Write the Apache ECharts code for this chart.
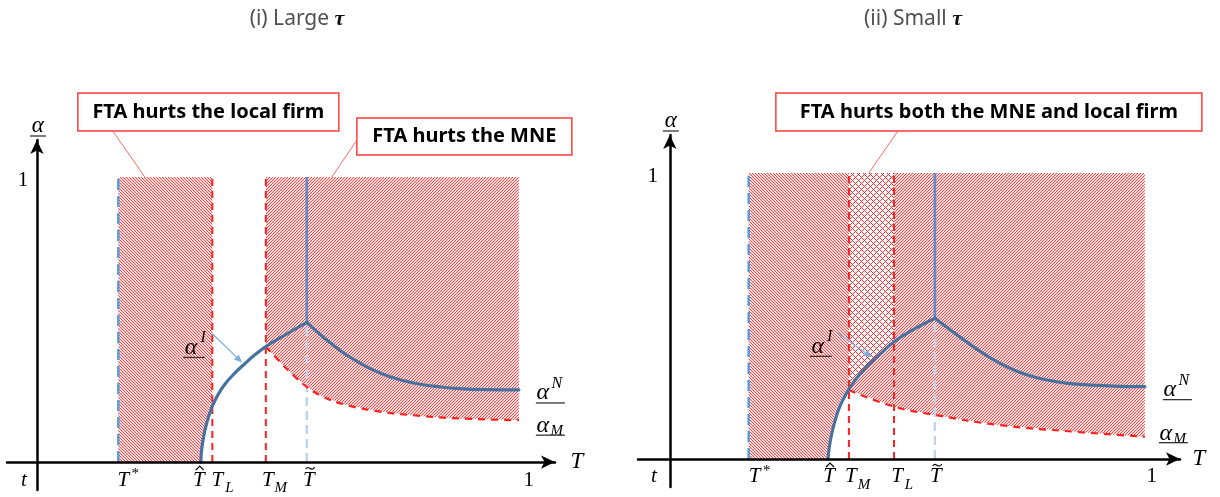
<!DOCTYPE html>
<html>
<head>
<meta charset="utf-8">
<script src="https://cdn.jsdelivr.net/npm/echarts@6/dist/echarts.min.js"></script>
<style>
  html, body { margin: 0; padding: 0; background: #fff; }
  #chart { width: 1220px; height: 497px; }
</style>
</head>
<body>
<div id="chart"></div>
<script>
// ---- Thresholds on the T axis, order: T*, T-hat, T_L, T_M, T-tilde ----
const thresholdNames = ['T*', 'T\u0302', 'T_L', 'T_M', 'T\u0303'];
const largeThresholds = [0.169, 0.340, 0.364, 0.475, 0.560];
const smallThresholds = [0.166, 0.333, 0.472, 0.377, 0.558];

// ---- Curves, points are [T, alpha] ----
// Large tau
const largeAlphaI = [[0.340, 0], [0.342, 0.045], [0.346, 0.090], [0.352, 0.135], [0.358, 0.168],
  [0.364, 0.196], [0.375, 0.234], [0.390, 0.273], [0.410, 0.311], [0.432, 0.346], [0.453, 0.377],
  [0.475, 0.405], [0.518, 0.449], [0.560, 0.490]];
const largeAlphaN = [[0.560, 0.490], [0.598, 0.433], [0.638, 0.381], [0.678, 0.340], [0.717, 0.309],
  [0.757, 0.287], [0.796, 0.273], [0.836, 0.264], [0.875, 0.258], [0.931, 0.254], [1.000, 0.253]];
const largeAlphaM = [[0.475, 0.405], [0.504, 0.352], [0.532, 0.305], [0.560, 0.264], [0.594, 0.229],
  [0.643, 0.200], [0.712, 0.177], [0.796, 0.162], [0.875, 0.153], [1.000, 0.147]];
// Small tau
const smallAlphaI = [[0.333, 0], [0.336, 0.045], [0.341, 0.090], [0.348, 0.135], [0.357, 0.180],
  [0.367, 0.215], [0.377, 0.244], [0.393, 0.282], [0.414, 0.322], [0.442, 0.366], [0.472, 0.410],
  [0.512, 0.452], [0.558, 0.492]];
const smallAlphaN = [[0.558, 0.492], [0.611, 0.426], [0.651, 0.379], [0.692, 0.337], [0.733, 0.305],
  [0.773, 0.284], [0.814, 0.270], [0.854, 0.262], [0.935, 0.255], [1.000, 0.253]];
const smallAlphaM = [[0.377, 0.241], [0.472, 0.183], [0.558, 0.154], [0.692, 0.119], [0.854, 0.095],
  [1.000, 0.078]];

// ---- Texts ----
const panelTitles = ['(i) Large {tau|\u03c4}', '(ii) Small {tau|\u03c4}'];
const calloutTexts = ['FTA hurts the local firm', 'FTA hurts the MNE', 'FTA hurts both the MNE and local firm'];
const axisEndLabel = '1';

// ---- Styles ----
const SERIF = '"Liberation Serif", "DejaVu Serif", serif';
const SANS = '"Noto Sans", "Noto Sans CJK JP", sans-serif';
const CURVE = '#46729f';
const RED = '#ff1f1f';

// Diagonal hatch tiles drawn pixel by pixel
function makeHatch(kind) {
  const size = kind === 'x' ? 6 : 3;
  const c = document.createElement('canvas');
  c.width = c.height = size;
  const g = c.getContext('2d');
  const im = g.createImageData(size, size);
  for (let y = 0; y < size; y++) {
    for (let x = 0; x < size; x++) {
      const k = (y * size + x) * 4;
      if (kind === 'x') {
        const on = (x + y) % 6 === 0 || (x - y + 6) % 6 === 0;
        im.data[k] = 255; im.data[k + 1] = on ? 45 : 255; im.data[k + 2] = on ? 45 : 255; im.data[k + 3] = 255;
      } else {
        const on = kind === '/' ? (x + y) % 3 === 2 : (x - y + 3) % 3 === 0;
        im.data[k] = 255; im.data[k + 1] = 20; im.data[k + 2] = 20; im.data[k + 3] = on ? 200 : 36;
      }
    }
  }
  g.putImageData(im, 0, 0);
  return { image: c, repeat: 'repeat' };
}
const hatchBack = makeHatch('\\');
const hatchFwd = makeHatch('/');
const hatchCross = makeHatch('x');

// ---- Math-style label pieces (relative to the main glyph centre) ----
function T(s, x, y, size, upright) {
  const font = (upright ? '' : 'italic ') + size + 'px ' + SERIF;
  return { type: 'text', x: x, y: y, style: { text: s, font: font, fill: '#000',
    align: 'center', verticalAlign: 'middle', textAlign: 'center', textVerticalAlign: 'middle' } };
}
function sym(base, o) {
  o = o || {};
  const size = o.size || 21;
  const parts = [T(base, 0, 0, size, o.upright)];
  if (o.sup) parts.push(T(o.sup, o.supDx ?? 11, o.supDy ?? -7, o.supSize || 15, o.supUpright));
  if (o.sub) parts.push(T(o.sub, o.subDx ?? 12, o.subDy ?? 8, o.subSize || 15));
  if (o.hat) parts.push({ type: 'polyline', shape: { points: [[-3, -10], [1, -14], [5, -10]] },
    style: { stroke: '#000', lineWidth: 1.2, fill: null } });
  if (o.tilde) parts.push({ type: 'bezierCurve',
    shape: { x1: -3, y1: -11, cpx1: 0, cpy1: -16, cpx2: 2, cpy2: -7, x2: 6, y2: -13 },
    style: { stroke: '#000', lineWidth: 1.2, fill: null } });
  if (o.under) parts.push({ type: 'line', shape: { x1: o.under[0], y1: o.under[2], x2: o.under[1], y2: o.under[2] },
    style: { stroke: '#333', lineWidth: 1.3 } });
  return parts;
}
function pointer(tx, ty, hx, hy) {
  const a = Math.atan2(hy - ty, hx - tx), L = 8, W = 3.5;
  const bx = hx - L * Math.cos(a), by = hy - L * Math.sin(a);
  return [
    { type: 'line', shape: { x1: tx, y1: ty, x2: bx, y2: by }, style: { stroke: '#7aaedd', lineWidth: 1.3 } },
    { type: 'polygon', shape: { points: [[hx, hy], [bx + W * Math.sin(a), by - W * Math.cos(a)], [bx - W * Math.sin(a), by + W * Math.cos(a)]] },
      style: { fill: '#7aaedd' } }
  ];
}
function callout(text, bx, by, w, h, lx, ly) {
  return [
    { type: 'line', shape: { x1: 0, y1: 0, x2: lx, y2: ly }, style: { stroke: '#ff6b6b', lineWidth: 1 } },
    { type: 'rect', shape: { x: bx, y: by, width: w, height: h }, style: { fill: '#fff', stroke: '#ff3c3c', lineWidth: 1.5 } },
    { type: 'text', x: bx + w / 2, y: by + h / 2, style: { text: text, font: 'bold 20px ' + SANS, fill: '#000',
      align: 'center', verticalAlign: 'middle', textAlign: 'center', textVerticalAlign: 'middle' } }
  ];
}

// ---- Annotation layout for each panel ----
function panelNotes(th, aN, aM, aI, iPoint, L) {
  const endN = aN[aN.length - 1], endM = aM[aM.length - 1];
  return [
    { at: [th[0], 0], dx: L.star, dy: 18, parts: sym('T', { sup: '*', supDx: 12, supDy: -6, supSize: 15, supUpright: true }) },
    { at: [th[1], 0], dx: L.hat, dy: 18, parts: sym('T', { hat: true }) },
    { at: [th[2], 0], dx: L.tl, dy: 18, parts: sym('T', { sub: 'L' }) },
    { at: [th[3], 0], dx: L.tm, dy: 18, parts: sym('T', { sub: 'M', subDx: 13 }) },
    { at: [th[4], 0], dx: L.til, dy: 18, parts: sym('T', { tilde: true }) },
    { at: [1, 0], dx: L.one, dy: 18, parts: sym(axisEndLabel, { upright: true }) },
    { at: [0, 0], dx: L.t, dy: 18, parts: sym('t') },
    { at: [0, 1], dx: L.yOne, dy: 3, parts: sym(axisEndLabel, { upright: true }) },
    { at: [0, L.yTop], dx: 1, dy: -14, parts: sym('\u03b1', { size: 23, under: [-8, 8, 10] }) },
    { at: [L.xEnd, 0], dx: L.tName, dy: 0, parts: sym('T', { size: 23 }) },
    { at: endN, dx: L.nDx, dy: 3, parts: sym('\u03b1', { size: 24, sup: 'N', supDx: 14, supDy: -9, supSize: 16, under: [-7, 22, 10] }) },
    { at: endM, dx: L.mDx, dy: L.mDy, parts: sym('\u03b1', { size: 24, sub: 'M', subDx: 14, subDy: 5, supSize: 16, under: [-7, 22, 9] }) },
    { at: aI[iPoint], dx: 0, dy: 0, parts: pointer(L.arrow[0], L.arrow[1], L.arrow[2], L.arrow[3])
        .concat(sym('\u03b1', { size: 24, sup: 'I', supDx: 12, supDy: -10, supSize: 16, under: [-8, 14, 10] })
          .map(p => Object.assign(p, p.type === 'text' ? { x: p.x + L.iLab[0], y: p.y + L.iLab[1] } : { x: L.iLab[0], y: L.iLab[1] }))) }
  ];
}

const largeNotes = panelNotes(largeThresholds, largeAlphaN, largeAlphaM, largeAlphaI, 9, {
  star: 5, hat: -2, tl: 5, tm: 2, til: 2, one: 10, t: -13, yOne: -14, yTop: 1.13, xEnd: 1.075, tName: 22,
  nDx: 24, mDx: 24, mDy: 6, arrow: [-33, -30, -3, -1], iLab: [-54, -16]
}).concat([
  { at: [0.224, 1], dx: 0, dy: 0, parts: callout(calloutTexts[0], -67, -84, 261, 38, -32, -46) },
  { at: [0.612, 1], dx: 0, dy: 0, parts: callout(calloutTexts[1], 25, -59, 215, 37, 25, -37) }
]);
const smallNotes = panelNotes(smallThresholds, smallAlphaN, smallAlphaM, smallAlphaI, 9, {
  star: 6, hat: 1, tl: 3, tm: 2, til: 1, one: 7, t: -16, yOne: -17, yTop: 1.133, xEnd: 1.074, tName: 19,
  nDx: 25, mDx: 21, mDy: -3, arrow: [-43, -22, -8, 3], iLab: [-62, -8]
}).concat([
  { at: [0.419, 1], dx: 0, dy: 0, parts: callout(calloutTexts[2], -93, -80, 426, 38, 29, -42) }
]);

// ---- Series builders ----
function regionSeries(gi, polys) {
  return {
    type: 'custom', xAxisIndex: gi, yAxisIndex: gi, silent: true, z: 1,
    data: polys.map((p, i) => [p.pts[0][0], p.pts[0][1], i]),
    renderItem: function (params, api) {
      const poly = polys[api.value(2)];
      return { type: 'polygon', shape: { points: poly.pts.map(p => api.coord(p)) }, style: { fill: poly.fill } };
    }
  };
}
function noteSeries(gi, notes) {
  return {
    type: 'custom', xAxisIndex: gi, yAxisIndex: gi, silent: true, z: 20,
    data: notes.map((n, i) => [n.at[0], n.at[1], i]),
    renderItem: function (params, api) {
      const n = notes[api.value(2)];
      const p = api.coord([api.value(0), api.value(1)]);
      return { type: 'group', x: p[0] + n.dx, y: p[1] + n.dy, children: n.parts };
    }
  };
}
function line(gi, data, style, extra) {
  return Object.assign({ type: 'line', xAxisIndex: gi, yAxisIndex: gi, data: data, symbol: 'none',
    silent: true, z: 3, lineStyle: style }, extra || {});
}

function panelSeries(gi, th, aI, aN, aM, withCross) {
  const peak = aI[aI.length - 1];
  const upToL = aI.filter(p => p[0] <= th[2] + 1e-9).reverse();
  const polys = [
    { fill: hatchBack, pts: [[th[0], 0], [th[0], 1], [th[2], 1]].concat(upToL) },
    { fill: hatchFwd, pts: [[th[3], 1], [1, 1]].concat(aM.slice().reverse()) }
  ];
  if (withCross) {
    const mid = aI.filter(p => p[0] >= th[3] - 1e-9 && p[0] <= th[2] + 1e-9).reverse();
    polys.push({ fill: hatchCross, pts: [[th[3], 1], [th[2], 1]].concat(mid) });
  }
  const smooth = { smooth: 0.45 };
  return [
    regionSeries(gi, polys),
    line(gi, [[th[0], 0], [th[0], 1]], { color: '#5b9bd5', width: 2.5, type: [11, 6] }),
    line(gi, [[th[2], 0], [th[2], 1]], { color: RED, width: 2, type: [7, 5] }),
    line(gi, [[th[3], 0], [th[3], 1]], { color: RED, width: 2, type: [7, 5] }),
    line(gi, [[th[4], 0], peak], { color: '#bcd4ec', width: 2.4, type: [9, 5] }),
    line(gi, [peak, [th[4], 1]], { color: '#5b8ec8', width: 2.8 }),
    line(gi, aM, { color: RED, width: 2.2, type: [7, 6] }, smooth),
    line(gi, aI, { color: CURVE, width: 3.2, cap: 'round', join: 'round' }, smooth),
    line(gi, aN, { color: CURVE, width: 3.2, cap: 'round', join: 'round' }, smooth)
  ];
}

function axisPair(gi, xmin, xmax, ymin, ymax) {
  const axisLine = { show: true, onZero: true, symbol: ['none', 'arrow'], symbolSize: [10, 14],
    lineStyle: { color: '#000', width: 2.5 } };
  const common = { type: 'value', gridIndex: gi, z: 10, axisLine: axisLine, axisTick: { show: false },
    axisLabel: { show: false }, splitLine: { show: false } };
  return [Object.assign({ min: xmin, max: xmax }, common), Object.assign({ min: ymin, max: ymax }, common)];
}

const leftAxes = axisPair(0, -0.062, 1.075, -0.098, 1.13);
const rightAxes = axisPair(1, -0.067, 1.074, -0.098, 1.133);

const option = {
  animation: false,
  backgroundColor: '#fff',
  grid: [
    { left: 7, top: 140, width: 548, height: 350 },
    { left: 638, top: 135, width: 542, height: 352 }
  ],
  xAxis: [leftAxes[0], rightAxes[0]],
  yAxis: [leftAxes[1], rightAxes[1]],
  graphic: panelTitles.map((t, i) => ({
    type: 'text', x: [297, 913][i], y: 19, z: 100,
    style: { text: t, fill: '#505050', fontSize: 21, fontFamily: SANS, align: 'center', verticalAlign: 'middle',
      rich: { tau: { fontFamily: SERIF, fontStyle: 'italic', fontWeight: 'bold', fontSize: 22, fill: '#111' } } }
  })),
  series: []
    .concat(panelSeries(0, largeThresholds, largeAlphaI, largeAlphaN, largeAlphaM, false))
    .concat(panelSeries(1, smallThresholds, smallAlphaI, smallAlphaN, smallAlphaM, true))
    .concat([noteSeries(0, largeNotes), noteSeries(1, smallNotes)])
};

const chart = echarts.init(document.getElementById('chart'));
chart.setOption(option);
</script>
</body>
</html>
